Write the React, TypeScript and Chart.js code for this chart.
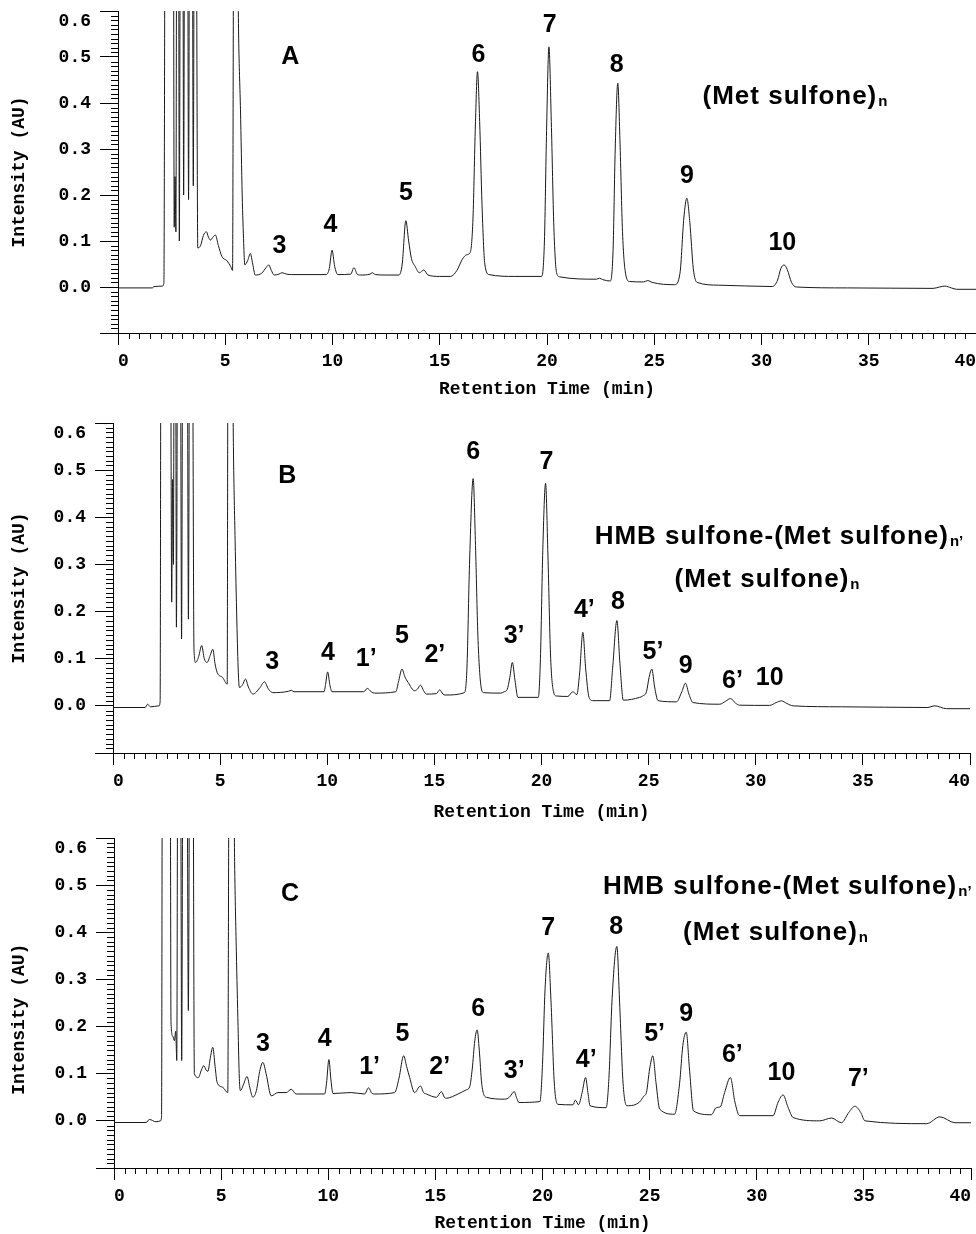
import React, { useEffect, useRef } from 'react';
import { Chart, registerables } from 'chart.js';

Chart.register(...registerables);

// ---------- DATA: retention time (min), intensity (AU) ----------
const traceA: [number, number][] = [
  [0.0, -0.002], [1.6, -0.002], [1.68, 0.001], [2.08, 0.002], [2.14, 0.01], [2.2, 0.9],
  [2.58, 0.9], [2.62, 0.13], [2.66, 0.24], [2.7, 0.12], [2.74, 0.9], [2.82, 0.9], [2.86, 0.1],
  [2.91, 0.9], [3.02, 0.9], [3.06, 0.2], [3.11, 0.9], [3.24, 0.9], [3.29, 0.19], [3.34, 0.9],
  [3.46, 0.9], [3.51, 0.22], [3.56, 0.9], [3.64, 0.9], [3.72, 0.085], [3.85, 0.09], [3.98, 0.112],
  [4.12, 0.12], [4.22, 0.108], [4.31, 0.102], [4.42, 0.108], [4.54, 0.113], [4.68, 0.09],
  [4.85, 0.066], [5.08, 0.057], [5.25, 0.045], [5.34, 0.036], [5.4, 0.9], [5.52, 0.9],
  [5.63, 0.53], [5.71, 0.385], [5.79, 0.2], [5.86, 0.095], [5.91, 0.048], [6.05, 0.058],
  [6.17, 0.073], [6.28, 0.05], [6.4, 0.026], [6.7, 0.03], [6.9, 0.042], [7.03, 0.048],
  [7.15, 0.036], [7.28, 0.026], [7.5, 0.028], [7.65, 0.031], [7.85, 0.028], [8.1, 0.027],
  [9.7, 0.027], [9.85, 0.04], [9.98, 0.08], [10.1, 0.045], [10.25, 0.027], [10.85, 0.028],
  [11.0, 0.042], [11.15, 0.028], [11.3, 0.026], [11.75, 0.028], [11.85, 0.031], [12.0, 0.027],
  [12.5, 0.026], [13.1, 0.026], [13.25, 0.05], [13.42, 0.144], [13.55, 0.1], [13.68, 0.062],
  [13.85, 0.045], [14.05, 0.031], [14.26, 0.037], [14.45, 0.026], [15.0, 0.023], [15.5, 0.023],
  [15.8, 0.036], [16.05, 0.06], [16.25, 0.07], [16.42, 0.075], [16.55, 0.15], [16.66, 0.35],
  [16.76, 0.468], [16.86, 0.36], [16.97, 0.18], [17.1, 0.05], [17.3, 0.027], [18.5, 0.023],
  [19.75, 0.023], [19.88, 0.1], [19.98, 0.34], [20.09, 0.522], [20.2, 0.36], [20.32, 0.13],
  [20.45, 0.03], [20.6, 0.022], [22.3, 0.017], [22.45, 0.019], [22.6, 0.016], [22.95, 0.013],
  [23.08, 0.08], [23.18, 0.3], [23.3, 0.443], [23.4, 0.32], [23.52, 0.12], [23.66, 0.03],
  [23.85, 0.012], [24.5, 0.011], [24.7, 0.014], [24.9, 0.01], [25.95, 0.005], [26.2, 0.03],
  [26.38, 0.15], [26.52, 0.193], [26.66, 0.14], [26.82, 0.04], [27.0, 0.01], [28.0, 0.004],
  [30.5, 0.001], [30.75, 0.015], [30.9, 0.04], [31.05, 0.048], [31.2, 0.038], [31.4, 0.01],
  [31.62, 0.0], [34.0, -0.002], [38.0, -0.003], [38.3, 0.0], [38.55, 0.002], [38.85, -0.002],
  [39.1, -0.005], [40.0, -0.005],
];

const traceB: [number, number][] = [
  [0.0, -0.0035], [1.5, -0.0035], [1.62, 0.0035], [1.75, -0.002], [2.15, 0.0], [2.2, 0.01],
  [2.24, 0.9], [2.68, 0.9], [2.74, 0.22], [2.78, 0.48], [2.82, 0.3], [2.86, 0.9], [2.92, 0.9],
  [2.96, 0.167], [3.02, 0.9], [3.14, 0.9], [3.2, 0.142], [3.26, 0.9], [3.46, 0.9], [3.52, 0.184],
  [3.58, 0.9], [3.7, 0.9], [3.78, 0.12], [3.86, 0.092], [4.0, 0.105], [4.14, 0.128], [4.26, 0.1],
  [4.39, 0.092], [4.52, 0.105], [4.66, 0.12], [4.76, 0.09], [4.86, 0.071], [5.12, 0.06],
  [5.33, 0.046], [5.37, 0.9], [5.55, 0.9], [5.62, 0.55], [5.7, 0.35], [5.78, 0.18], [5.85, 0.07],
  [5.9, 0.039], [6.05, 0.045], [6.18, 0.057], [6.32, 0.04], [6.53, 0.025], [6.85, 0.038],
  [7.07, 0.051], [7.25, 0.036], [7.46, 0.028], [8.2, 0.031], [8.32, 0.033], [8.45, 0.03],
  [9.85, 0.03], [9.92, 0.045], [10.02, 0.072], [10.12, 0.045], [10.22, 0.03], [11.7, 0.03],
  [11.87, 0.037], [12.05, 0.03], [12.21, 0.027], [13.2, 0.03], [13.32, 0.05], [13.49, 0.078],
  [13.62, 0.062], [13.77, 0.05], [14.08, 0.032], [14.22, 0.036], [14.35, 0.044], [14.5, 0.032],
  [14.63, 0.025], [15.1, 0.026], [15.25, 0.034], [15.4, 0.025], [15.5, 0.023], [16.4, 0.028],
  [16.52, 0.08], [16.64, 0.3], [16.81, 0.482], [16.92, 0.34], [17.03, 0.15], [17.18, 0.04],
  [17.3, 0.028], [18.1, 0.027], [18.26, 0.03], [18.4, 0.035], [18.52, 0.06], [18.64, 0.092],
  [18.76, 0.055], [18.9, 0.018], [19.85, 0.018], [19.95, 0.1], [20.06, 0.33], [20.19, 0.472],
  [20.3, 0.32], [20.42, 0.11], [20.56, 0.03], [20.69, 0.021], [21.23, 0.02], [21.46, 0.03],
  [21.65, 0.024], [21.78, 0.07], [21.93, 0.156], [22.06, 0.08], [22.22, 0.018], [22.4, 0.011],
  [23.18, 0.011], [23.32, 0.08], [23.52, 0.181], [23.66, 0.09], [23.82, 0.012], [24.58, 0.018],
  [24.73, 0.021], [24.9, 0.03], [25.02, 0.06], [25.15, 0.078], [25.28, 0.04], [25.44, 0.011],
  [26.3, 0.0085], [26.55, 0.03], [26.72, 0.048], [26.88, 0.025], [27.07, 0.007], [28.32, 0.0035],
  [28.6, 0.01], [28.82, 0.0156], [29.05, 0.006], [29.25, 0.0014], [30.65, 0.001], [30.95, 0.007],
  [31.2, 0.0106], [31.45, 0.005], [31.75, 0.0], [34.0, -0.002], [38.0, -0.0035], [38.36, 0.0],
  [38.9, -0.006], [40.0, -0.006],
];

const traceC: [number, number][] = [
  [0.0, -0.0035], [1.5, -0.0035], [1.65, 0.003], [1.96, -0.002], [2.17, 0.0], [2.22, 0.01],
  [2.26, 0.9], [2.62, 0.9], [2.66, 0.21], [2.74, 0.18], [2.82, 0.17], [2.88, 0.19], [2.93, 0.128],
  [2.98, 0.9], [3.1, 0.9], [3.16, 0.128], [3.22, 0.9], [3.4, 0.9], [3.47, 0.234], [3.54, 0.9],
  [3.68, 0.9], [3.75, 0.1], [3.94, 0.092], [4.08, 0.108], [4.19, 0.117], [4.3, 0.108],
  [4.38, 0.105], [4.5, 0.135], [4.61, 0.156], [4.72, 0.115], [4.81, 0.082], [5.08, 0.071],
  [5.31, 0.06], [5.38, 0.9], [5.55, 0.9], [5.63, 0.55], [5.71, 0.36], [5.79, 0.2], [5.85, 0.09],
  [5.9, 0.064], [6.05, 0.078], [6.21, 0.094], [6.35, 0.068], [6.48, 0.05], [6.65, 0.065],
  [6.8, 0.105], [6.95, 0.124], [7.1, 0.1], [7.34, 0.053], [7.65, 0.06], [8.04, 0.06],
  [8.27, 0.067], [8.5, 0.057], [9.83, 0.057], [9.92, 0.08], [10.03, 0.13], [10.13, 0.085],
  [10.22, 0.058], [11.07, 0.06], [11.7, 0.057], [11.88, 0.07], [12.05, 0.058], [12.17, 0.057],
  [13.1, 0.06], [13.3, 0.09], [13.52, 0.138], [13.66, 0.115], [13.8, 0.092], [14.03, 0.06],
  [14.3, 0.074], [14.45, 0.06], [14.58, 0.057], [15.05, 0.05], [15.28, 0.062], [15.42, 0.05],
  [15.51, 0.048], [16.06, 0.057], [16.45, 0.066], [16.6, 0.072], [16.72, 0.11], [16.84, 0.17],
  [16.95, 0.193], [17.05, 0.15], [17.16, 0.08], [17.38, 0.05], [18.24, 0.046], [18.45, 0.05],
  [18.68, 0.062], [18.8, 0.048], [18.9, 0.039], [19.88, 0.041], [20.0, 0.12], [20.12, 0.28],
  [20.27, 0.356], [20.4, 0.25], [20.55, 0.08], [20.72, 0.035], [21.42, 0.034], [21.54, 0.044],
  [21.68, 0.034], [21.85, 0.06], [22.01, 0.092], [22.12, 0.06], [22.22, 0.032], [22.97, 0.028],
  [23.1, 0.09], [23.25, 0.26], [23.47, 0.37], [23.6, 0.25], [23.76, 0.08], [23.94, 0.032],
  [24.53, 0.04], [24.72, 0.052], [24.85, 0.06], [25.0, 0.11], [25.15, 0.138], [25.3, 0.08],
  [25.47, 0.025], [26.16, 0.014], [26.4, 0.08], [26.55, 0.16], [26.71, 0.188], [26.86, 0.11],
  [27.05, 0.021], [27.88, 0.013], [28.11, 0.028], [28.3, 0.03], [28.5, 0.06], [28.77, 0.092],
  [28.98, 0.04], [29.2, 0.011], [30.76, 0.011], [31.0, 0.04], [31.23, 0.055], [31.45, 0.03],
  [31.7, 0.007], [32.94, 0.0], [33.49, 0.006], [33.95, -0.004], [34.3, 0.018], [34.58, 0.031],
  [34.85, 0.018], [35.05, 0.0], [37.93, -0.006], [38.55, 0.0085], [39.25, -0.004], [40.0, -0.004],
];

// Axis ranges / ticks
const xRange = [0, 40];
const xMajorStep = 5;
const xMinorStep = 0.5;
const yRange = [-0.1, 0.6];
const yMajorStep = 0.1;
const yMinorStep = 0.01;
const xTitle = 'Retention Time (min)';
const yTitle = 'Intensity (AU)';

// Peak labels: [text, time, intensity]
type PeakLabel = [string, number, number];
const peakLabelsA: PeakLabel[] = [
  ['A', 8.03, 0.5], ['3', 7.53, 0.089], ['4', 9.91, 0.135], ['5', 13.42, 0.204], ['6', 16.8, 0.504],
  ['7', 20.13, 0.57], ['8', 23.25, 0.483], ['9', 26.52, 0.241], ['10', 30.97, 0.095],
];
const peakLabelsB: PeakLabel[] = [
  ['B', 8.13, 0.488], ['3', 7.43, 0.092], ['4', 10.03, 0.112], ['1\u2019', 11.82, 0.099],
  ['5', 13.49, 0.149], ['2\u2019', 15.02, 0.108], ['6', 16.81, 0.539], ['3\u2019', 18.72, 0.149],
  ['7', 20.23, 0.518], ['4\u2019', 22.0, 0.204], ['8', 23.57, 0.22], ['5\u2019', 25.2, 0.113],
  ['9', 26.73, 0.084], ['6\u2019', 28.91, 0.053], ['10', 30.65, 0.059],
];
const peakLabelsC: PeakLabel[] = [
  ['C', 8.22, 0.482], ['3', 6.95, 0.163], ['4', 9.83, 0.174], ['1\u2019', 11.93, 0.113],
  ['5', 13.46, 0.184], ['2\u2019', 15.2, 0.113], ['6', 17.0, 0.238], ['3\u2019', 18.68, 0.106],
  ['7', 20.27, 0.408], ['8', 23.44, 0.411], ['4\u2019', 22.04, 0.128], ['5\u2019', 25.23, 0.183],
  ['9', 26.71, 0.226], ['6\u2019', 28.86, 0.14], ['10', 31.15, 0.101], ['7\u2019', 34.74, 0.089],
];

// Compound labels: [main text, subscript, left time, baseline intensity]
type CompoundLabel = [string, string, number, number];
const compoundLabelsA: CompoundLabel[] = [['(Met sulfone)', 'n', 27.25, 0.398]];
const compoundLabelsB: CompoundLabel[] = [
  ['HMB sulfone-(Met sulfone)', 'n\u2019', 22.48, 0.344],
  ['(Met sulfone)', 'n', 26.21, 0.252],
];
const compoundLabelsC: CompoundLabel[] = [
  ['HMB sulfone-(Met sulfone)', 'n\u2019', 22.82, 0.481],
  ['(Met sulfone)', 'n', 26.56, 0.383],
];

// ---------- LAYOUT ----------
type PanelCfg = {
  top: number; height: number; padTop: number; padRight: number; yWidth: number; xHeight: number;
  trace: [number, number][]; peaks: PeakLabel[]; compounds: CompoundLabel[]; yTitleText: string;
};
const panels: PanelCfg[] = [
  { top: 0, height: 400, padTop: 11, padRight: 0, yWidth: 118, xHeight: 67, trace: traceA, peaks: peakLabelsA, compounds: compoundLabelsA, yTitleText: yTitle },
  { top: 410, height: 413, padTop: 13, padRight: 6, yWidth: 113, xHeight: 70, trace: traceB, peaks: peakLabelsB, compounds: compoundLabelsB, yTitleText: yTitle },
  { top: 824, height: 410, padTop: 14, padRight: 5, yWidth: 114, xHeight: 66, trace: traceC, peaks: peakLabelsC, compounds: compoundLabelsC, yTitleText: yTitle + '   ' },
];

const MONO = '"Liberation Mono", "Courier New", monospace';
const SANS = '"Liberation Sans", Arial, Helvetica, sans-serif';

const minorTicksPlugin = {
  id: 'minorTicks',
  afterDraw(chart: any) {
    const { ctx, chartArea, scales } = chart;
    const x = scales.x, y = scales.y;
    ctx.save();
    ctx.strokeStyle = '#000';
    ctx.lineWidth = 1;
    ctx.beginPath();
    const nx = Math.round((xRange[1] - xRange[0]) / xMinorStep);
    const ratioX = Math.round(xMajorStep / xMinorStep);
    for (let i = 1; i < nx; i++) {
      if (i % ratioX === 0) continue;
      const px = Math.round(x.getPixelForValue(xRange[0] + i * xMinorStep)) + 0.5;
      ctx.moveTo(px, chartArea.bottom);
      ctx.lineTo(px, chartArea.bottom + 6);
    }
    const ny = Math.round((yRange[1] - yRange[0]) / yMinorStep);
    const ratioY = Math.round(yMajorStep / yMinorStep);
    for (let j = 1; j < ny; j++) {
      if (j % ratioY === 0) continue;
      const py = Math.round(y.getPixelForValue(yRange[0] + j * yMinorStep)) + 0.5;
      ctx.moveTo(chartArea.left, py);
      ctx.lineTo(chartArea.left - 7, py);
    }
    ctx.stroke();
    ctx.restore();
  },
};

function makeLabelsPlugin(cfg: PanelCfg) {
  return {
    id: 'peakLabels',
    afterDatasetsDraw(chart: any) {
      const { ctx, scales } = chart;
      const x = scales.x, y = scales.y;
      ctx.save();
      ctx.fillStyle = '#000';
      ctx.font = `bold 25px ${SANS}`;
      ctx.textAlign = 'center';
      ctx.textBaseline = 'middle';
      for (const [t, px, py] of cfg.peaks) {
        ctx.fillText(t, x.getPixelForValue(px), y.getPixelForValue(py));
      }
      ctx.textAlign = 'left';
      ctx.textBaseline = 'alphabetic';
      for (const [main, sub, lx, ly] of cfg.compounds) {
        const px = x.getPixelForValue(lx);
        const py = y.getPixelForValue(ly);
        ctx.font = `bold 26px ${SANS}`;
        (ctx as any).letterSpacing = '1px';
        ctx.fillText(main, px, py);
        const w = ctx.measureText(main).width;
        ctx.font = `bold 15px ${SANS}`;
        (ctx as any).letterSpacing = '0px';
        ctx.fillText(sub, px + w + 1, py + 2);
      }
      ctx.restore();
    },
  };
}

function Panel({ cfg }: { cfg: PanelCfg }) {
  const ref = useRef<HTMLCanvasElement>(null);
  useEffect(() => {
    if (!ref.current) return;
    const tickFont = { family: MONO, size: 18, weight: 'bold' as const };
    const chart = new Chart(ref.current, {
      type: 'line',
      data: {
        datasets: [
          {
            data: cfg.trace.map(([t, v]) => ({ x: t, y: v })),
            borderColor: '#1a1a1a',
            borderWidth: 1,
            pointRadius: 0,
            fill: false,
            cubicInterpolationMode: 'monotone',
          },
        ],
      },
      options: {
        responsive: false,
        animation: false,
        devicePixelRatio: 1,
        layout: { padding: { top: cfg.padTop, right: cfg.padRight, left: 0, bottom: 0 } },
        plugins: { legend: { display: false }, tooltip: { enabled: false } },
        scales: {
          x: {
            type: 'linear',
            min: xRange[0],
            max: xRange[1],
            ticks: {
              stepSize: xMajorStep,
              align: 'inner',
              autoSkip: false,
              maxRotation: 0,
              padding: 6,
              color: '#000',
              font: tickFont,
              callback: (v: any) => String(Math.round(Number(v))),
            },
            grid: { display: true, drawOnChartArea: false, drawTicks: true, tickLength: 12, color: '#000', tickColor: '#000' },
            border: { display: true, color: '#000', width: 1 },
            title: { display: true, text: xTitle, color: '#000', font: tickFont, padding: { top: 4, bottom: 0 } },
            afterFit: (s: any) => {
              s.height = cfg.xHeight;
              s.paddingLeft = 0;
              s.paddingRight = 0;
            },
          },
          y: {
            type: 'linear',
            min: yRange[0],
            max: yRange[1],
            ticks: {
              stepSize: yMajorStep,
              autoSkip: false,
              padding: 9,
              color: '#000',
              font: tickFont,
              callback: (v: any) => {
                const r = Math.round(Number(v) * 10) / 10;
                if (r < 0) return '';
                if (r >= yRange[1] - 1e-9) return ['', r.toFixed(1)];
                return r.toFixed(1);
              },
            },
            grid: { display: true, drawOnChartArea: false, drawTicks: true, tickLength: 18, color: '#000', tickColor: '#000' },
            border: { display: true, color: '#000', width: 1 },
            title: { display: true, text: cfg.yTitleText, color: '#000', font: tickFont, padding: { top: 9, bottom: 0 } },
            afterFit: (s: any) => {
              s.width = cfg.yWidth;
              s.paddingTop = 0;
              s.paddingBottom = 0;
            },
          },
        },
      } as any,
      plugins: [minorTicksPlugin, makeLabelsPlugin(cfg)],
    });
    return () => chart.destroy();
  }, [cfg]);
  return (
    <canvas
      ref={ref}
      width={976}
      height={cfg.height}
      style={{ position: 'absolute', left: 0, top: cfg.top, width: 976, height: cfg.height, display: 'block' }}
    />
  );
}

export default function App() {
  return (
    <div style={{ position: 'absolute', left: 0, top: 0, width: 976, height: 1234, overflow: 'hidden', background: '#fff' }}>
      {panels.map((p, i) => (
        <Panel key={i} cfg={p} />
      ))}
    </div>
  );
}
